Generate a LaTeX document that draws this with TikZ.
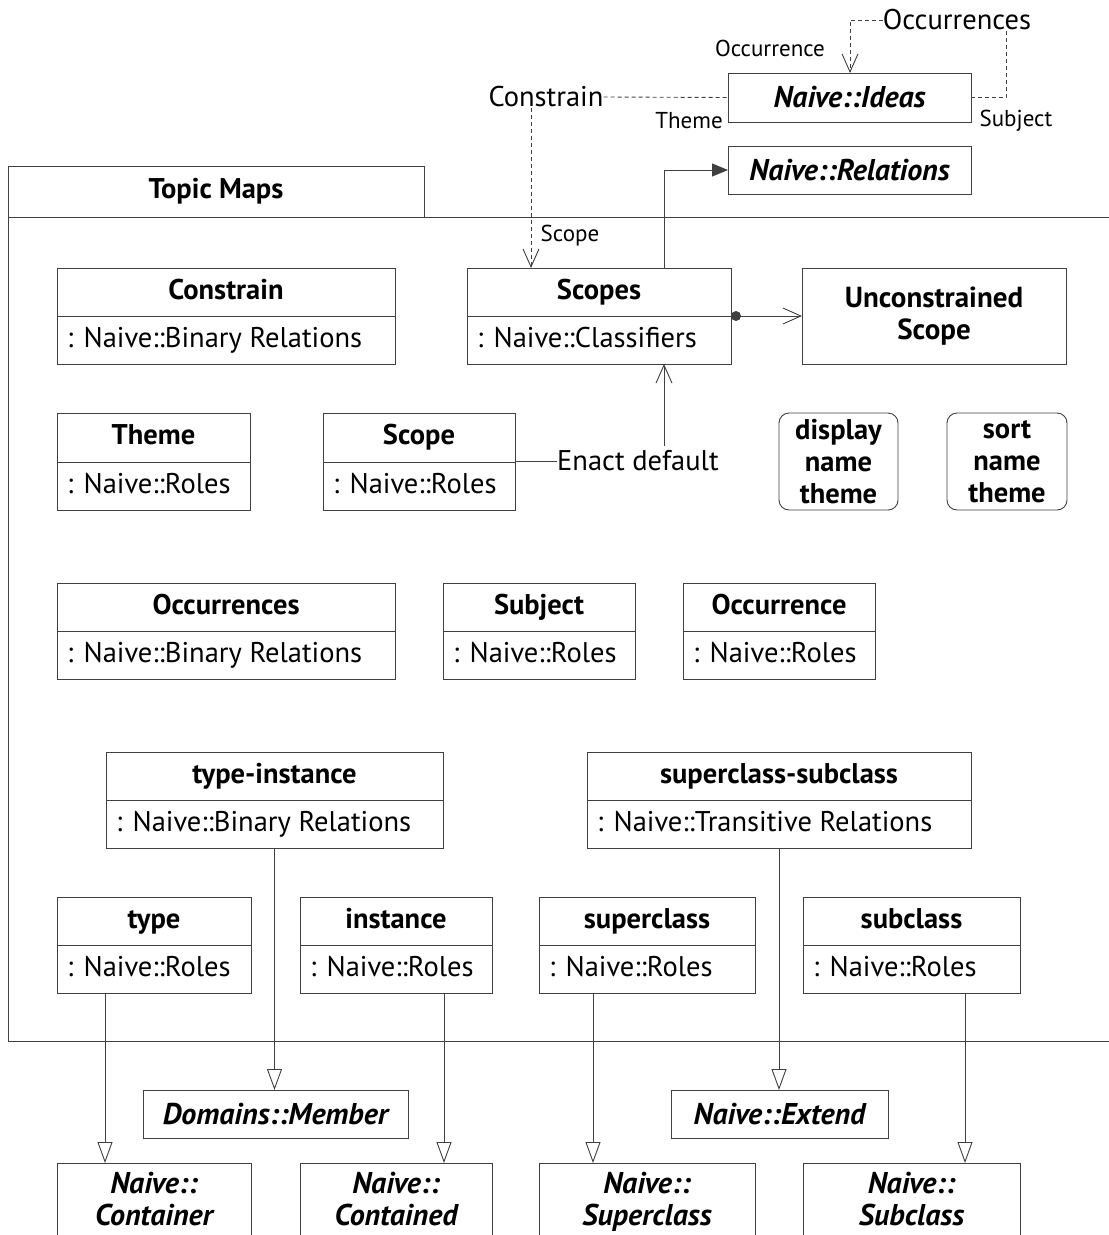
\documentclass[tikz,border=0pt]{standalone}
\usepackage{fontspec}
\setmainfont{PT Sans}
\usetikzlibrary{arrows.meta,calc}
\definecolor{lc}{gray}{0.25}
\tikzset{
  box/.style={draw=lc, line width=0.9pt, inner sep=0pt, outer sep=0pt},
  ttl/.style={font=\fontsize{28.5}{32}\selectfont\bfseries, inner sep=0pt, text height=20pt, text depth=6pt},
  att/.style={font=\fontsize{28.5}{32}\selectfont, inner sep=0pt, text height=20pt, text depth=6pt},
  itl/.style={font=\fontsize{30}{31.5}\selectfont\bfseries\itshape, align=center},
  lbl/.style={font=\fontsize{23}{26}\selectfont, inner sep=0pt},
  big/.style={font=\fontsize{28.5}{32}\selectfont, inner sep=0pt},
  conn/.style={draw=lc, line width=0.9pt},
  dsh/.style={conn, dash pattern=on 4pt off 3pt},
  gen/.style={conn, -{Triangle[open, length=21pt, width=15pt, fill=white]}},
  dep/.style={-{Straight Barb[length=18pt, width=16pt]}},
}
\newcommand\umlcls[8]{%
  \node[box, anchor=north west, minimum width={(#4)-(#2)}, minimum height={(#5)-(#3)}] (#1) at (#2,#3) {};
  \draw[conn] (#2,#6) -- (#4,#6);
  \node[ttl] (#1t) at ({(#2+#4)/2},{(#3+#6)/2}) {#7};
  \node[att, anchor=west] (#1a) at ({#2+10},{(#6+#5)/2}) {#8};
}
\newcommand\plainbox[6]{%
  \node[box, itl, anchor=north west, minimum width={(#4)-(#2)}, minimum height={(#5)-(#3)}] (#1) at (#2,#3) {#6};
}
\begin{document}
\begin{tikzpicture}[x=1pt, y=-1pt]
\useasboundingbox (0,0) rectangle (1109,1235);
\clip (0,0) rectangle (1109,1235);
\fill[white] (0,0) rectangle (1109,1235);

% package frame
\node[box, anchor=north west, minimum width=1130, minimum height=824] (pkg) at (8,217) {};
\node[box, anchor=north west, minimum width=416, minimum height=51,
      font=\fontsize{28.5}{32}\selectfont\bfseries] (tab) at (8,166) {Topic Maps};

% helper x coordinates
\coordinate (x531) at (531,0);
\coordinate (x664) at (664,0);
\coordinate (x850) at (850,0);
\coordinate (x1006) at (1006,0);
\coordinate (xa) at (105,0);
\coordinate (xb) at (444,0);
\coordinate (xc) at (593,0);
\coordinate (xd) at (965,0);

% top boxes
\plainbox{ideas}{728}{73}{971}{122}{Naive::Ideas}
\plainbox{rel}{728}{146}{971}{194}{Naive::Relations}

% top labels
\node[big] (occs) at (957,20) {Occurrences};
\node[lbl] (occl) at (770,48) {Occurrence};
\node[big] (cons) at (546,97) {Constrain};
\node[lbl] (theml) at (689,121) {Theme};
\node[lbl] (subjl) at (1016,121) {Subject};
\node[lbl] (scopel) at (570,236) {Scope};

% classes
\umlcls{constrain}{57}{268}{395}{364}{316}{Constrain}{: Naive::Binary Relations}
\umlcls{scopes}{467}{268}{731}{364}{316}{Scopes}{: Naive::Classifiers}
\node[box, anchor=north west, minimum width=264, minimum height=96, align=center,
      font=\fontsize{29}{32}\selectfont\bfseries] (uncon) at (802,268) {Unconstrained\\Scope};

\umlcls{theme}{57}{413}{250}{510}{462}{Theme}{: Naive::Roles}
\umlcls{scope}{323}{413}{515}{510}{462}{Scope}{: Naive::Roles}
\node[big, anchor=west] (enact) at (557,461) {Enact default};
\node[box, rounded corners=10pt, anchor=north west, minimum width=119, minimum height=97, align=center,
      font=\fontsize{28.5}{32}\selectfont\bfseries] (disp) at (779,413) {display\\name\\theme};
\node[box, rounded corners=10pt, anchor=north west, minimum width=120, minimum height=97, align=center,
      font=\fontsize{28.5}{32}\selectfont\bfseries] (sort) at (947,413) {sort\\name\\theme};

\umlcls{occs2}{57}{583}{395}{679}{631}{Occurrences}{: Naive::Binary Relations}
\umlcls{subj}{443}{583}{635}{679}{631}{Subject}{: Naive::Roles}
\umlcls{occ}{683}{583}{875}{679}{631}{Occurrence}{: Naive::Roles}

\umlcls{tyin}{106}{752}{443}{848}{800}{type-instance}{: Naive::Binary Relations}
\umlcls{supsub}{587}{752}{971}{848}{800}{superclass-subclass}{: Naive::Transitive Relations}

\umlcls{type}{57}{897}{251}{993}{945}{type}{: Naive::Roles}
\umlcls{inst}{300}{897}{492}{993}{945}{instance}{: Naive::Roles}
\umlcls{super}{539}{897}{755}{993}{945}{superclass}{: Naive::Roles}
\umlcls{sub}{803}{897}{1020}{993}{945}{subclass}{: Naive::Roles}

\plainbox{dom}{143}{1090}{408}{1138}{Domains::Member}
\plainbox{ext}{671}{1090}{888}{1138}{Naive::Extend}

\plainbox{cont}{57}{1163}{251}{1243}{\strut Naive::\\Container\strut}
\plainbox{contd}{300}{1163}{492}{1243}{\strut Naive::\\Contained\strut}
\plainbox{supc}{539}{1163}{755}{1243}{\strut Naive::\\Superclass\strut}
\plainbox{subc}{803}{1163}{1020}{1243}{\strut Naive::\\Subclass\strut}

% top connectors
\draw[dsh, dep] (occs.west) -| (ideas.north -| x850);
\draw[dsh] (ideas.east) -| (occs.south -| x1006);
\draw[dsh] (cons.east) -- (ideas.west);
\draw[dsh, dep] (cons.south -| x531) -- (scopes.north -| x531);
\draw[conn, -{Triangle[length=16pt, width=13pt]}] (scopes.north -| x664) |- (rel.west);

% scopes connectors
\draw[conn, dep] (scopes.east |- uncon.west) -- (uncon.west);
\fill[lc] ($(scopes.east |- uncon.west)+(5,0)$) circle (5);
\draw[conn] (scope.east |- enact.west) -- (enact.west);
\draw[conn, dep] (enact.north -| x664) ++(0,-5) -- (scopes.south -| x664);

% generalizations
\draw[gen] (tyin.south) -- (tyin.south |- dom.north);
\draw[gen] (supsub.south) -- (supsub.south |- ext.north);
\draw[gen] (type.south -| xa) -- (cont.north -| xa);
\draw[gen] (inst.south -| xb) -- (contd.north -| xb);
\draw[gen] (super.south -| xc) -- (supc.north -| xc);
\draw[gen] (sub.south -| xd) -- (subc.north -| xd);
\end{tikzpicture}
\end{document}
